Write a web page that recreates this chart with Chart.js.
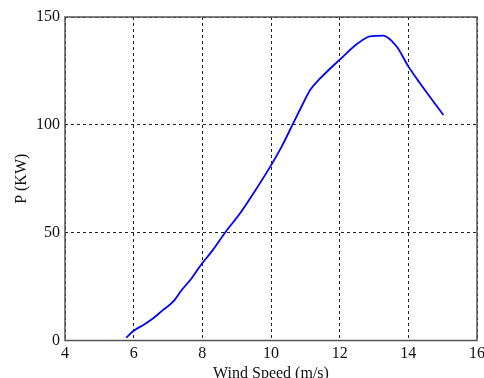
<!DOCTYPE html>
<html>
<head>
<meta charset="utf-8">
<script src="https://cdn.jsdelivr.net/npm/chart.js@4.4.1/dist/chart.umd.min.js"></script>
<style>
html,body{margin:0;padding:0;background:#fff;}
#wrap{width:484px;height:378px;position:relative;}
</style>
</head>
<body>
<div id="wrap"><canvas id="c" width="484" height="378"></canvas></div>
<script>
const windSpeed = [5.78, 6.0, 6.28, 6.57, 6.86, 7.15, 7.40, 7.69, 7.98, 8.27, 8.66, 9.10, 9.49, 9.97, 10.31, 10.65, 10.89, 11.14, 11.43, 12.0, 12.54, 12.88, 13.27, 13.66, 14.0, 14.34, 15.02];
const power     = [1.3, 4.5, 7.2, 10.3, 14.2, 18.0, 23.4, 28.9, 35.5, 41.2, 50.0, 59.0, 68.3, 80.4, 89.9, 100.8, 108.5, 116.2, 121.5, 130.2, 137.9, 141.0, 141.4, 136.3, 127.1, 119.3, 104.6];
const xTicks = [4, 6, 8, 10, 12, 14, 16];
const yTicks = [0, 50, 100, 150];
const xTitle = 'Wind Speed (m/s)';
const yTitle = 'P (KW)';

const points = windSpeed.map((x, i) => ({x: x, y: power[i]}));
const FONT = {family: '"Liberation Serif", "Times New Roman", serif', size: 16};

const boxPlugin = {
  id: 'box',
  afterDatasetsDraw(chart) {
    const {ctx, chartArea: a} = chart;
    ctx.save();
    ctx.strokeStyle = '#555';
    ctx.lineWidth = 1.5;
    ctx.setLineDash([]);
    ctx.strokeRect(a.left, a.top, a.right - a.left, a.bottom - a.top);
    ctx.restore();
  }
};

new Chart(document.getElementById('c'), {
  type: 'scatter',
  data: {
    datasets: [{
      data: points,
      showLine: true,
      borderColor: '#0000ff',
      borderWidth: 1.8,
      pointRadius: 0,
      cubicInterpolationMode: 'monotone',
      fill: false
    }]
  },
  options: {
    responsive: false,
    animation: false,
    devicePixelRatio: 1,
    layout: {padding: {top: 17, right: 0, left: 0, bottom: 0}},
    plugins: {legend: {display: false}, tooltip: {enabled: false}},
    scales: {
      x: {
        type: 'linear',
        min: 4, max: 16,
        afterBuildTicks: s => { s.ticks = xTicks.map(v => ({value: v})); },
        afterFit: s => { s.height = 37.5; s.paddingRight = 7; s.paddingLeft = 0; },
        grid: {color: '#222', lineWidth: 1, drawTicks: false},
        border: {display: false, dash: [3, 3]},
        ticks: {color: '#111', font: FONT, padding: 4, maxRotation: 0},
        title: {display: true, text: xTitle, color: '#111', font: FONT, padding: {top: 0, bottom: -5}}
      },
      y: {
        type: 'linear',
        min: 0, max: 150,
        afterBuildTicks: s => { s.ticks = yTicks.map(v => ({value: v})); },
        afterFit: s => { s.width = 65; },
        grid: {color: '#222', lineWidth: 1, drawTicks: false},
        border: {display: false, dash: [3, 3]},
        ticks: {color: '#111', font: FONT, padding: 5},
        title: {display: true, text: yTitle, color: '#111', font: FONT, padding: {top: 12, bottom: 0}}
      }
    }
  },
  plugins: [boxPlugin]
});
</script>
</body>
</html>
